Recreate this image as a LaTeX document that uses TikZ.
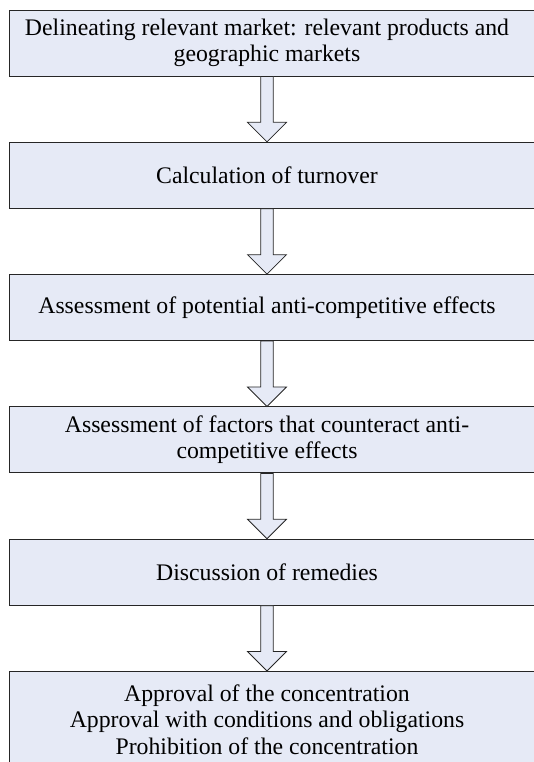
\documentclass[tikz,border=0pt]{standalone}
\usepackage{fontspec}
\setmainfont{Liberation Serif}
\usetikzlibrary{positioning,calc}
\definecolor{stepfill}{RGB}{230,234,246}
\tikzset{
  flow/.style={
    stepbox/.style={
        draw=black!85,
        line width=0.9pt,
        fill=stepfill,
        shape=rectangle,
        minimum width=534pt,
        minimum height=66pt,
        inner sep=2pt,
        font=\fontsize{23.75pt}{26.5pt}\selectfont,
    },
    stepflow/.style={
        draw=black!85,
        line width=0.8pt,
        fill=stepfill,
        line join=miter,
    },
    node distance=65.4pt
  }
}
\newcommand{\steptext}[1]{\hspace*{-18pt}\parbox{500pt}{\centering #1}}
\newcommand{\steparrow}[2]{%
    \draw[stepflow] ($(#1.south)+(-15.3pt,0)$) -- ($(#2.north)+(-15.3pt,19.5pt)$)
        -- ($(#2.north)+(-28.5pt,19.5pt)$) -- ($(#2.north)+(-9pt,0)$)
        -- ($(#2.north)+(10.5pt,19.5pt)$) -- ($(#2.north)+(-2.7pt,19.5pt)$)
        -- ($(#1.south)+(-2.7pt,0)$) -- cycle;%
}
\begin{document}
\begin{tikzpicture}[flow]
    \useasboundingbox (0,0) rectangle (534pt,-762pt);
    \clip (0,0) rectangle (534pt,-762pt);
    \node[stepbox] (market) at (276pt,-43pt)
        {\steptext{Delineating relevant market: relevant products and\\geographic markets}};
    \node[stepbox, below=of market] (turnover)
        {\steptext{Calculation of turnover}};
    \node[stepbox, below=of turnover] (effects)
        {\steptext{Assessment of potential anti-competitive effects}};
    \node[stepbox, below=of effects] (counter)
        {\steptext{Assessment of factors that counteract anti-\\competitive effects}};
    \node[stepbox, below=of counter] (remedies)
        {\steptext{Discussion of remedies}};
    \node[stepbox, below=of remedies, minimum height=96pt] (decision)
        {\steptext{Approval of the concentration\\Approval with conditions and obligations\\Prohibition of the concentration}};
    \foreach \a/\b in {market/turnover, turnover/effects, effects/counter,
                       counter/remedies, remedies/decision}
        \steparrow{\a}{\b};
\end{tikzpicture}
\end{document}
